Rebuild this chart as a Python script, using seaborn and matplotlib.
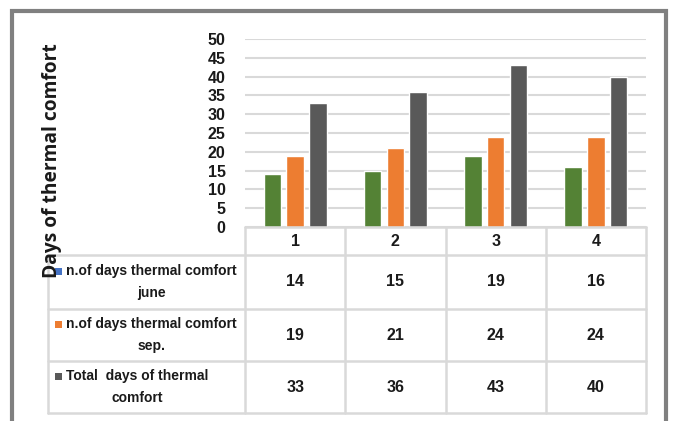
import matplotlib
matplotlib.use("Agg")
import matplotlib.pyplot as plt
import pandas as pd
import seaborn as sns
from matplotlib.lines import Line2D
from matplotlib.patches import Rectangle

periods = ["1", "2", "3", "4"]
june_days = [14, 15, 19, 16]
sep_days = [19, 21, 24, 24]
total_days = [33, 36, 43, 40]
series_names = [
    "n.of days thermal comfort june",
    "n.of days thermal comfort sep.",
    "Total  days of thermal comfort",
]
# how each row label wraps inside the table
row_label_lines = [
    ("n.of days thermal comfort", "june"),
    ("n.of days thermal comfort", "sep."),
    ("Total  days of thermal", "comfort"),
]
bar_colors = ["#548235", "#ED7D31", "#595959"]
key_colors = ["#4472C4", "#ED7D31", "#595959"]  # legend keys as in the original table
y_label = "Days of thermal comfort"

W, H = 673, 421
FONT = ["Liberation Sans", "DejaVu Sans"]
GRID = "#D9D9D9"
TXT = "#1a1a1a"


def fy(px):
    return 1 - px / H


def fx(px):
    return px / W


df = pd.DataFrame({
    "period": periods * 3,
    "days": june_days + sep_days + total_days,
    "series": [s for s in series_names for _ in periods],
})

sns.set_theme(style="white")
plt.rcParams["font.family"] = FONT

fig = plt.figure(figsize=(W / 100, H / 100), dpi=100, facecolor="white")
ax = fig.add_axes([fx(245), fy(227), fx(646) - fx(245), fy(39) - fy(227)])

sns.barplot(
    data=df, x="period", y="days", hue="series", palette=bar_colors,
    width=0.68, gap=0.23, saturation=1, legend=False, ax=ax, zorder=3,
)
ax.set_xlim(-0.5, 3.5)
ax.set_ylim(0, 50)
ax.set_yticks(range(0, 51, 5))
ax.yaxis.grid(True, color=GRID, linewidth=1.5, zorder=0)
ax.tick_params(axis="y", length=0, pad=14, labelsize=11.5)
for lab in ax.get_yticklabels():
    lab.set_fontweight("bold")
    lab.set_color(TXT)
ax.set_xticks([])
ax.set_xlabel("")
ax.set_ylabel("")
for sp in ax.spines.values():
    sp.set_visible(False)

fig.text(fx(52), fy(161), y_label, rotation=90, ha="center", va="center",
         fontsize=13.8, fontweight="bold", color=TXT,
         family=["Open Sans", "DejaVu Sans"])

# data table below the plot
row_edges = [227, 255, 309, 361, 413]
left_px = 48
to_fig = ax.transData + fig.transFigure.inverted()
col_edges = [to_fig.transform((i - 0.5, 0))[0] for i in range(len(periods) + 1)]
col_centers = [to_fig.transform((i, 0))[0] for i in range(len(periods))]

lw = 1.8
fig.add_artist(Line2D([col_edges[0], col_edges[-1]], [fy(row_edges[0])] * 2, color=GRID, lw=lw))
for r in row_edges[1:]:
    fig.add_artist(Line2D([fx(left_px), col_edges[-1]], [fy(r)] * 2, color=GRID, lw=lw))
for c in col_edges:
    fig.add_artist(Line2D([c, c], [fy(row_edges[0]), fy(row_edges[-1])], color=GRID, lw=lw))
fig.add_artist(Line2D([fx(left_px)] * 2, [fy(row_edges[1]), fy(row_edges[-1])], color=GRID, lw=lw))

txt_kw = dict(fontsize=10, fontweight="bold", color=TXT, family=FONT)
num_kw = dict(txt_kw, fontsize=11.5)
head_y = (row_edges[0] + row_edges[1]) / 2
for cx, p in zip(col_centers, periods):
    fig.text(cx, fy(head_y), p, ha="center", va="center", **num_kw)

fig.canvas.draw()
for i, vals in enumerate([june_days, sep_days, total_days]):
    top, bot = row_edges[i + 1], row_edges[i + 2]
    mid = (top + bot) / 2
    for cx, v in zip(col_centers, vals):
        fig.text(cx, fy(mid), str(v), ha="center", va="center", **num_kw)
    line1, line2 = row_label_lines[i]
    t1 = fig.text(fx(66), fy(mid - 11), line1, ha="left", va="center", **txt_kw)
    bb = t1.get_window_extent(fig.canvas.get_renderer()).transformed(fig.transFigure.inverted())
    fig.text((bb.x0 + bb.x1) / 2, fy(mid + 11), line2, ha="center", va="center", **txt_kw)
    fig.add_artist(Rectangle((fx(55), fy(mid - 11) - 3.5 / H), 7 / W, 7 / H,
                             facecolor=key_colors[i], edgecolor="none"))

# outer frame
fig.add_artist(Rectangle((fx(12), -0.05), fx(666) - fx(12), fy(11) + 0.05,
                         fill=False, edgecolor="#808080", linewidth=3))

fig.savefig("out.png", dpi=100, facecolor="white")
